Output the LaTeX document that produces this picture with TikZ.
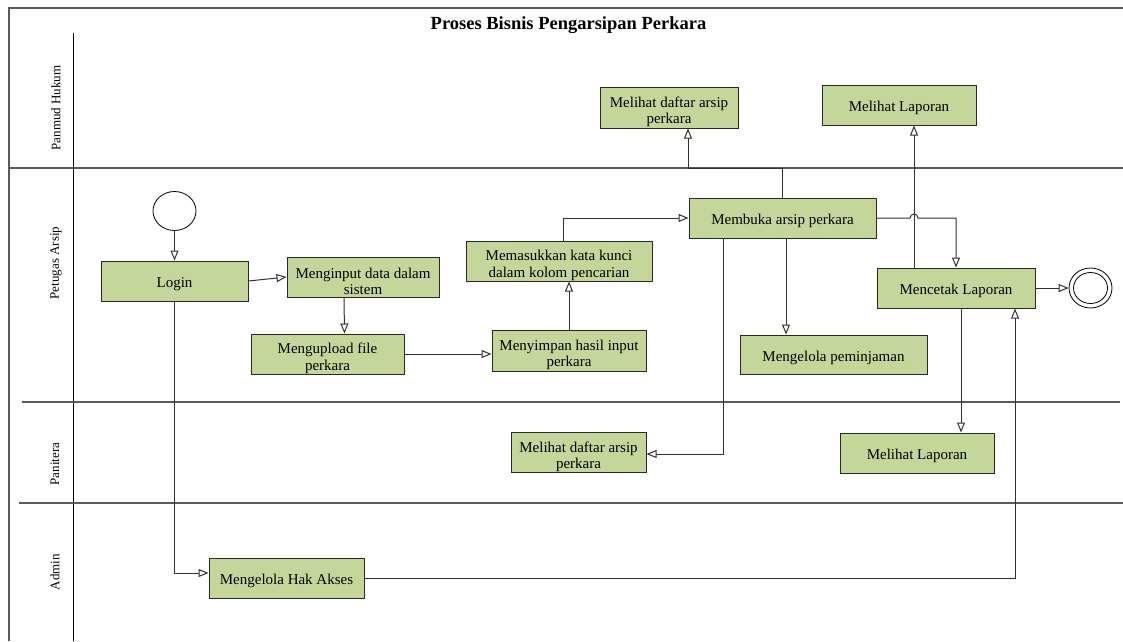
\documentclass[tikz,border=0pt]{standalone}
\usepackage{fontspec}
\setmainfont{Liberation Serif}
\usetikzlibrary{arrows.meta,shapes.geometric,calc}
\definecolor{boxfill}{RGB}{196,215,155}
\definecolor{boxline}{RGB}{40,40,40}
\definecolor{conn}{RGB}{50,50,50}
\definecolor{lane}{RGB}{90,90,90}
\newcommand\mytstrut{\rule{0pt}{17pt}}
\newcommand\mytstrutb{\rule{0pt}{19.5pt}}
\tikzset{
  act/.style={draw=boxline,fill=boxfill,line width=1pt,align=center,inner sep=0pt,
    font=\fontsize{15}{16.5}\selectfont,execute at begin node=\mytstrut},
  arr/.style={draw=conn,line width=1pt,-{Triangle[open,length=10pt,width=8pt,fill=white]}},
  ln/.style={draw=conn,line width=1pt},
  laneline/.style={draw=lane,line width=1.3pt},
  lanelabel/.style={rotate=90,font=\fontsize{13}{14}\selectfont},
  startnode/.style={draw=black,fill=white,ellipse,minimum width=43pt,minimum height=39pt,line width=0.8pt},
}
\begin{document}
\begin{tikzpicture}[x=1pt,y=-1pt]
\useasboundingbox (0,0) rectangle (1123,641);
% frame and lanes
\draw[laneline] (9,641) -- (9,8) -- (1123,8);
\draw[draw=black,line width=1pt] (73,33) -- (73,641);
\draw[laneline] (9,168) -- (1123,168);
\draw[laneline] (22,402) -- (1120,402);
\draw[laneline] (19,503) -- (1123,503);
\node[anchor=base,font=\bfseries\fontsize{18.5}{20}\selectfont] (title) at (568.5,29) {Proses Bisnis Pengarsipan Perkara};
\node[lanelabel] (l1) at (56,108) {Panmud Hukum};
\node[lanelabel] (l2) at (56,263) {Petugas Arsip};
\node[lanelabel] (l3) at (55,464) {Panitera};
\node[lanelabel] (l4) at (55,572) {Admin};
% nodes
\node[startnode] (start) at (174.5,211) {};
\node[act,minimum width=147pt,minimum height=40pt] (login) at (174.5,281) {Login};
\node[act,minimum width=152pt,minimum height=40pt] (input) at (363,277) {\mytstrutb Menginput data dalam\\sistem};
\node[act,minimum width=153pt,minimum height=40pt] (upload) at (327.5,354) {\mytstrutb Mengupload file\\perkara};
\node[act,minimum width=154pt,minimum height=41pt] (simpan) at (569,350.5) {\mytstrutb Menyimpan hasil input\\perkara};
\node[act,minimum width=186pt,minimum height=40pt] (kunci) at (559,261) {\mytstrutb Memasukkan kata kunci\\dalam kolom pencarian};
\node[act,minimum width=187pt,minimum height=40pt] (buka) at (782.5,218) {Membuka arsip perkara};
\node[act,minimum width=187pt,minimum height=39pt] (pinjam) at (833.5,354.5) {Mengelola peminjaman};
\node[act,minimum width=158pt,minimum height=40pt] (cetak) at (956,288) {Mencetak Laporan};
\node[draw=black,fill=white,ellipse,minimum width=43pt,minimum height=40pt,line width=0.8pt] (end) at (1090.5,288) {};
\node[draw=black,ellipse,minimum width=34pt,minimum height=31pt,line width=0.8pt] (endin) at (1090.5,288) {};
\node[act,minimum width=138pt,minimum height=41pt] (pharsip) at (669,107.5) {\mytstrutb Melihat daftar arsip\\perkara};
\node[act,minimum width=154pt,minimum height=40pt] (phlap) at (899,105) {Melihat Laporan};
\node[act,minimum width=135pt,minimum height=39pt] (ptarsip) at (578.5,452.5) {\mytstrutb Melihat daftar arsip\\perkara};
\node[act,minimum width=154pt,minimum height=40pt] (ptlap) at (917,453) {Melihat Laporan};
\node[act,minimum width=155pt,minimum height=40pt] (hak) at (286.5,578) {Mengelola Hak Akses};
% connectors
\draw[arr] (start) -- (login);
\draw[arr] (login.east) -- (input.west);
\draw[arr] ([xshift=-19pt]input.south) -- ([xshift=17pt]upload.north);
\draw[arr] (upload.east) -- (upload.east -| simpan.west);
\draw[arr] (simpan.north) -- (simpan.north |- kunci.south);
\draw[arr] ([xshift=4pt]kunci.north) |- (buka.west);
\draw[arr] (buka.north) -- (buka.north |- 0,168) -| ([xshift=19pt]pharsip.south);
\draw[arr] ([xshift=-59.5pt]buka.south) |- ([yshift=-1.5pt]ptarsip.east);
\draw[arr] ([xshift=3.5pt]buka.south) -- ([xshift=3.5pt]buka.south |- pinjam.north);
\draw[arr] (buka.east) -- (910,218) arc (180:360:4) -- (cetak.north |- buka.east) -- (cetak.north);
\draw[arr] ([xshift=-42pt]cetak.north) -- ([xshift=-42pt]cetak.north |- phlap.south);
\draw[arr] ([xshift=5pt]cetak.south) -- ([xshift=5pt]cetak.south |- ptlap.north);
\draw[arr] (cetak.east) -- (end.west);
\draw[arr] (login.south) |- ([yshift=5pt]hak.west);
\draw[arr] (hak.east) -| ([xshift=59pt]cetak.south);
\end{tikzpicture}
\end{document}
